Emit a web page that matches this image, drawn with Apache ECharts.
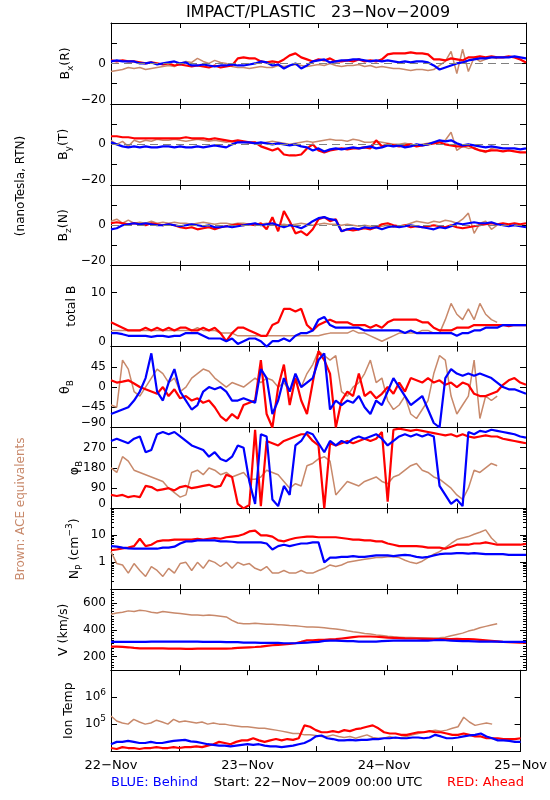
<!DOCTYPE html>
<html><head><meta charset="utf-8">
<script src="https://cdn.jsdelivr.net/npm/echarts@6/dist/echarts.min.js"></script>
<style>html,body{margin:0;padding:0;background:#fff}#c{width:550px;height:800px}</style>
</head><body><div id="c"></div>
<script>
// ---------- time grid (hours since 22-Nov-2009 00:00 UTC) ----------
const HOURS = [0,1,2,3,4,5,6,7,8,9,10,11,12,13,14,15,16,17,18,19,20,21,22,23,24,25,26,27,28,29,30,31,32,33,34,35,36,37,38,39,40,41,42,43,44,45,46,47,48,49,50,51,52,53,54,55,56,57,58,59,60,61,62,63,64,65,66,67,68,69,70,71,72];
const DAY_TICKS = [0,24,48,72];
const DAY_LABELS = ['22-Nov','23-Nov','24-Nov','25-Nov'];

// ---------- tick labels ----------
const BFIELD_LABELS = [-20, 0];
const BTOTAL_LABELS = [0, 10];
const THETA_LABELS = [-90, -45, 0, 45];
const PHI_LABELS = [0, 90, 180, 270];
const NP_LABELS = [1, 10];
const V_LABELS = [200, 400, 600];
const T_LABELS = [1e5, 1e6];

// ---------- Bx(R) ----------
const BX_AHEAD = [1.5,1,1.5,1,1, 0.5,0,0.5,0,-0.5, 0,-1,-0.5,-1,-1.5, -1,-1.5,-2,-1,-2, -1.5,-1,2.5,3,2.5, 2.5,1,0.5,1,0.5, 2,4,5,3,2, 1,2,1.5,2.5,1, 1,1.5,1,2,1, 1.5,1,2,4.5,5, 5,5,5.5,5,5, 4.5,2,2,1.5,2.5, 2,1.5,3,3,3.5, 3,3.5,3,3,3.5, 3,2,0.5];
const BX_BEHIND = [1,1.5,1,1,1, 0,0,0.5,-0.5,0, 0.5,1,0,0.5,-1, -1,-0.5,-1,-1.5,-1, -1,-0.5,-1,-1,-0.5, 0,1,0.5,-1,-0.5, -2.5,-1,0,-2.5,-1, 1,1.5,2,0.5,1, 1.5,1.5,2,2,1.5, 1,1.5,1,1.5,1, 0.5,1,0.5,1,1, 0.5,-1,-3,-2,-1, 0,0.5,1.5,2,2.5, 2.5,3,3,3,3, 3.5,3,2.5];
const BX_ACE = [-4,-3.5,-3,-2,-2.5, -2,-3,-2.5,-2,-1.5, -1,-1.5,0,1,0.5, 2.5,1,0,1.5,0.5, 0,-1.5,-2,-2,-2.5, -2,-1.5,-2,-2,-1, -1.5,-1,-0.5,-1,-1.5, -1,-0.5,-1,0,-1, -1.5,-1,-1,-0.5,-1.5, -1,-2,-1.5,-2,-2.5, -2.5,-3,-3.5,-3,-3, -3.5,-3,-1,1,6, -5,7,-4,3,1, 2,3,2.5];

// ---------- By(T) ----------
const BY_AHEAD = [4,4,3.5,3.5,3, 3,3,3,3,3, 3,3,3,3.5,3, 3,3,2.5,3,2.5, 2,1.5,2,1.5,1, 1,-1,-2,-3,-2, -5,-5.5,-5.5,-5,-2, 0,-3,-4,-3,-2.5, -2,-2.5,-2,-2,-1.5, -2,2,-1,0,-0.5, -1,-0.5,0,-1,-0.5, 0,0.5,1,0,-0.5, -1,-1,-0.5,-2,-3, -3.5,-3,-3,-3.5,-3, -3.5,-4,-4];
const BY_BEHIND = [1,0,-1,-1.5,-1, -1.5,-1,-1.5,-1.5,-1, -1,-1.5,-1,-1.5,-1.5, -1,-1.5,-1,-0.5,-1, -1.5,0,1,1,1, 0.5,1,0.5,0,0.5, 0,-0.5,0,-1,-1.5, -3,-2,-3.5,-2.5,-2, -2.5,-2,-1.5,-2,-1.5, -1,-2,-1.5,-0.5,-1, -0.5,-1.5,-1,0,-0.5, 0,1,2,1.5,2, 0.5,-0.5,0,-0.5,-1, -1.5,-1,-1.5,-2,-2, -2,-2.5,-2];
const BY_ACE = [2,0,1.5,-1,2, 1,2,1.5,2.5,2, 2,2.5,2,1.5,2, 2.5,2,1.5,2,1.5, 1,1.5,1,1,0.5, 1,0.5,1,1.5,1, 0.5,0,0.5,1,1.5, 1,1.5,2,2.5,2, 2,1.5,2.5,2,1, 1,1.5,1,0.5,0, 0,0.5,0,-0.5,0, 0.5,1,1.5,2,6, -3,-1,-2,-1.5,-3, -4,-2,-1.5];

// ---------- Bz(N) ----------
const BZ_AHEAD = [1,1.5,1,0.5,1, 0.5,0,1,0.5,0, 0.5,0,-1,-1.5,-1, -2,-1.5,-1,-2,-1, -0.5,0,0.5,0,0.5, 0,1,-2,4,-3, 7,2,-4,-3,-5, -2,3,4,2,3, -3,-2,-2.5,-2,-1.5, -2,-1,0.5,1,0, -0.5,0,-1,-0.5,-1, -0.5,0,-0.5,-1,0, -1,-1.5,-1,-0.5,0, 0.5,1,0.5,1,0.5, 1,0.5,1];
const BZ_BEHIND = [-2,-1.5,0,0.5,1, 0.5,1,0.5,0,0, 0.5,0,-0.5,0,0.5, 0,-0.5,0,-1,-1, -0.5,-1,-0.5,0,0.5, 1,0,0.5,1,0, -1,0,-0.5,-1.5,0, 2,3.5,4,3,2.5, -3,-2,-1.5,-2,-1, -1.5,-1,-2,-1,-0.5, -1,-0.5,0,-0.5,-1, -1.5,-2,-1,-1.5,-0.5, 1,0.5,1,1.5,1, 1,1.5,0.5,0,-0.5, 0,-0.5,-1];
const BZ_ACE = [2,3,1,2.5,1, 1.5,1,2,1,1.5, 1,1.5,1,1,0.5, 1,1.5,1,0.5,1, 1,0.5,1,1,0.5, 0,0.5,1,0.5,0, 0.5,0,0.5,1,0.5, 0,0.5,1,0.5,0.5, 0,0.5,0,-0.5,0, -0.5,-1,-0.5,0,-1, -0.5,0,1,2,1.5, 1,2,1.5,2.5,2, 1,3,6,-4,1, 2,-2,0];

// ---------- total B ----------
const BT_AHEAD = [4.5,4,3.5,3,3, 3,3.5,3,3.5,3, 3.5,3,3.5,3.5,3, 3,3.5,3,3.5,2.5, 1,2.5,3.5,3.5,3, 2.5,2,2,4,4.5, 7,7,6.5,7,4, 3,4,4.5,5,4.5, 4.5,4.5,4,4,4, 3.5,4,3.5,4.5,5, 5,5,5,5,4.5, 4.5,3.5,3,3,3, 3.5,3.5,3.5,4,4, 4,4,4,4,3.8, 4,4,4];
const BT_BEHIND = [2.5,2.5,2.3,2,2, 2,2,1.8,2,2, 1.8,2,2,2.5,2.5, 2.5,2,1.5,1.5,1.5, 1,1.5,0.5,1,1.5, 1.5,1,0,1,1, 1.5,1,2,2.5,2.5, 3,5,5.5,4,3.5, 3.5,3.5,3.5,3.5,3, 3,3,3,3,3, 3,2.5,3,2.5,2.5, 2.5,2.5,2.5,2.5,2.5, 2,2.5,2.5,3,3, 3.5,3.5,3.5,4,4, 4,4,4];
const BT_ACE = [3,3,3,3,3, 3,3,3,3,3, 3,3,3,3,3, 3.5,3,3,3,2.5, 2.5,2.5,2,2,2, 2,2,2,2,2, 2,2,2,2,2, 2,2,2.3,2.5,2.5, 2.5,2.5,3,2.5,2.5, 2,1.5,1,1.5,2, 2.5,2.5,2.5,2.5,3, 3,2.5,2.5,5,8, 6,5,7,5,8, 6,5,4.5];

// ---------- theta_B ----------
const TH_AHEAD = [15,10,12,15,8, 0,-5,-10,-15,0, -20,-5,-25,-20,-30, -25,-35,-30,-45,-65, -75,-60,-70,-40,-35, -30,60,-60,-90,0, 50,-40,20,-30,-60, 10,80,60,30,-90, -30,-10,-20,30,-20, -10,-25,-15,0,-15, 10,-10,20,15,10, 20,10,15,5,10, 0,10,5,-15,-20, -20,-15,-10,5,15, 20,10,5];
const TH_BEHIND = [-60,-55,-50,-45,-30, -10,20,75,-10,-30, 10,40,-10,-30,-50, -40,-10,0,-5,0, -10,-30,-30,-25,-30, -35,40,20,-60,-30, 20,-10,30,0,10, 20,60,75,-50,-30, -40,-30,-35,-20,-45, -60,-30,-40,-10,20, 0,-20,-40,-30,-20, -50,-80,-90,20,40, 30,25,30,25,30, 25,20,10,0,-5, -5,-10,-15];
const TH_ACE = [-40,-45,60,40,-10, -20,0,20,40,30, 10,20,-10,0,20, 30,40,35,20,10, 0,10,5,0,10, 20,10,20,15,0, 10,-10,20,0,30, 50,80,70,60,70, -10,-20,0,10,30, 60,10,20,-30,-50, -40,-20,-60,-70,-50, -30,30,70,60,-20, -60,-40,-20,60,-70, -20,-30,-20];

// ---------- phi_B ----------
const PH_AHEAD = [60,55,60,50,55, 50,100,95,80,85, 90,80,95,100,90, 95,100,105,95,100, 150,140,20,0,15, 350,10,300,290,280, 300,310,320,330,330, 300,280,0,290,280, 290,300,290,300,310, 300,310,340,30,350, 355,350,345,350,345, 340,335,330,325,330, 320,330,320,315,320, 325,320,320,310,305, 300,295,290];
const PH_BEHIND = [300,310,300,290,310, 320,250,260,330,340, 330,340,320,300,280, 270,260,230,250,220, 210,230,280,270,120, 20,330,320,40,10, 100,60,280,300,340, 330,290,250,300,280, 300,290,310,320,310, 320,330,310,280,300, 320,330,320,330,320, 330,320,100,60,20, 40,10,340,330,345, 340,350,345,340,335, 330,320,315];
const PH_ACE = [180,160,230,210,170, 160,150,140,130,120, 90,70,50,60,160, 170,150,180,170,150, 160,140,150,160,130, 130,140,170,160,150, 120,90,110,100,190, 200,220,230,210,60, 90,120,110,100,120, 130,140,120,110,140, 150,170,190,200,170, 160,140,130,110,90, 60,40,90,170,160, 180,200,190];

// ---------- Np ----------
const NP_AHEAD = [2.8,3,3.3,3.5,4, 7.5,4,4.5,6,6.5, 6.5,7,7,7,7, 7.5,7,7.5,8,7.5, 8.5,9,9.5,11,14, 15,10,10,9,6.5, 6,7,8,8.5,9, 9,8.5,8.5,8.5,8.5, 8,7.5,7,7,6.5, 6.5,6,6,5,4.5, 4,4,4,4,3.8, 3.5,3.5,3.5,3.2,3.8, 4.5,4.5,4.5,5,5, 5.5,5,4.5,4.5,4.5, 4.5,4.5,4.8];
const NP_BEHIND = [4,3.8,3.5,3.3,3.2, 3.2,3.2,3.2,3.2,3.5, 3.5,3.8,5,6,6, 6.5,6.5,6.5,6.5,6, 6,5.8,5.5,5.5,5.5, 5.5,5.5,5,3,4, 4.5,4,4.5,5,5, 5.5,5.5,1.0,1.5,1.5, 1.6,1.6,1.7,1.6,1.6, 1.7,1.8,1.8,1.8,1.7, 1.8,1.9,1.8,1.6,1.5, 1.6,1.8,2.0,2.1,2.1, 2.2,2.2,2.1,2.2,2.1, 2.0,2.0,2.0,2.0,1.9, 1.9,1.9,1.9];
const NP_ACE = [2.5,0.9,0.8,0.4,0.9, 0.5,0.3,0.7,0.5,0.3, 0.6,0.4,0.9,1.0,0.5, 1.0,0.6,1.2,1.0,0.7, 1.0,0.6,1.0,0.8,0.9, 0.6,0.5,0.7,0.4,0.4, 0.5,0.4,0.4,0.5,0.4, 0.4,0.5,0.6,0.8,0.7, 0.8,1.0,1.1,1.2,1.3, 1.4,1.5,1.5,1.6,1.6, 1.5,1.2,1.0,0.9,1.1, 1.5,2.0,2.5,3.5,5, 7,8,9,11,13, 16,8,5];

// ---------- V ----------
const V_AHEAD = [275,275,273,270,265, 262,262,262,262,262, 260,260,260,258,258, 260,260,260,260,260, 260,262,265,268,270, 272,275,280,285,288, 292,295,300,310,322, 322,325,325,328,330, 335,340,345,350,350, 350,348,345,342,340, 338,336,335,335,333, 332,330,330,330,330, 332,330,330,328,325, 322,318,314,310,308, 306,305,305];
const V_BEHIND = [310,310,310,310,310, 310,310,312,312,312, 312,312,312,312,312, 312,310,310,310,310, 308,308,308,305,305, 305,303,303,302,302, 300,300,300,302,305, 308,310,318,320,320, 318,315,315,312,312, 312,312,315,318,320, 320,320,320,320,320, 320,322,325,322,320, 318,315,315,314,312, 312,312,312,310,310, 310,310,310];
const V_ACE = [515,525,530,540,535, 545,540,530,525,535, 530,525,520,515,510, 510,505,510,505,500, 495,470,450,445,445, 448,445,440,440,438, 435,432,430,425,420, 420,418,415,410,405, 400,392,385,380,372, 368,362,358,352,348, 345,342,342,340,340, 338,338,340,345,355, 365,375,390,400,415, 425,435,445];

// ---------- Ion Temp ----------
const T_AHEAD = [1.3e4,1.2e4,1.4e4,1.3e4,1.3e4, 1.2e4,1.3e4,1.3e4,1.4e4,1.3e4, 1.3e4,1.4e4,1.3e4,1.4e4,1.4e4, 1.5e4,1.4e4,1.6e4,1.8e4,2.2e4, 2.0e4,1.8e4,2.2e4,2.5e4,2.5e4, 3.0e4,2.5e4,2.2e4,2.5e4,2.8e4, 2.5e4,2.8e4,2.6e4,3e4,9e4, 8e4,6e4,5e4,5e4,5.5e4, 5e4,6e4,5.5e4,6.5e4,7e4, 8e4,9e4,7e4,5e4,4.5e4, 4.5e4,4e4,4e4,4.5e4,5e4, 5e4,5.5e4,5e4,5e4,4.5e4, 4e4,4e4,4.5e4,4e4,3.5e4, 3.5e4,3e4,3e4,3e4,2.8e4, 2.8e4,2.8e4,3e4];
const T_BEHIND = [1.8e4,2.2e4,2.2e4,2.4e4,2.2e4, 2.0e4,2.0e4,2.2e4,2.0e4,2.0e4, 2.2e4,2.4e4,2.5e4,2.6e4,2.3e4, 2.2e4,2.0e4,1.8e4,1.7e4,1.6e4, 1.6e4,1.5e4,1.6e4,1.7e4,1.8e4, 1.7e4,1.8e4,1.6e4,1.5e4,1.5e4, 1.4e4,1.5e4,1.6e4,1.8e4,2.0e4, 2.5e4,3.5e4,3.8e4,3.0e4,2.8e4, 2.5e4,2.5e4,2.6e4,2.5e4,2.6e4, 2.6e4,2.8e4,2.8e4,3.0e4,3.0e4, 3.2e4,3.0e4,3.0e4,3.2e4,3.2e4, 3.0e4,3.2e4,4.0e4,3.5e4,3.0e4, 3.0e4,3.2e4,3.5e4,3.8e4,4e4, 4.5e4,3.5e4,3e4,2.5e4,2.5e4, 2.4e4,2.2e4,2.2e4];
const T_ACE = [2e5,1.3e5,1.1e5,1.0e5,1.5e5, 1.2e5,1.0e5,1.1e5,1.4e5,1.2e5, 1.0e5,1.5e5,1.2e5,1.3e5,1.2e5, 1.1e5,1.2e5,1.0e5,1.1e5,1.0e5, 1.0e5,9e4,8.5e4,8e4,8e4, 7.5e4,7e4,7e4,6.5e4,6e4, 5.5e4,5e4,4.5e4,4.5e4,4e4, 4e4,3.8e4,3.5e4,3.5e4,4e4, 3.5e4,3.2e4,3.5e4,3.0e4,3.5e4, 4e4,3.2e4,3.0e4,3.0e4,3.5e4, 3.0e4,3.2e4,3.5e4,4e4,4.5e4, 5e4,5.5e4,6e4,5.5e4,6e4, 7e4,8e4,1.8e5,1.2e5,9e4, 1.0e5,1.1e5,1.0e5];

// ---------- layout / style ----------
const FF = '"DejaVu Sans", "Liberation Sans", sans-serif';
const RED = '#ff0000', BLUE = '#0000ff', BROWN = '#c8896b';
const PLOT_LEFT = 111, PLOT_RIGHT = 526, PLOT_TOP = 23, PANEL_H = 80.9;

const NAME_RICH = {
  m: {fontSize: 12.5, fontFamily: FF, fill: '#000', lineHeight: 15, verticalAlign: 'middle'},
  s: {fontSize: 9, fontFamily: FF, fill: '#000', lineHeight: 9, verticalAlign: 'middle', padding: [10, 0, 0, 0]},
  p: {fontSize: 9, fontFamily: FF, fill: '#000', lineHeight: 9, verticalAlign: 'middle', padding: [0, 0, 10, 0]}
};

function logMinors(lo, hi) {
  const out = [];
  for (let d = lo; d < hi; d *= 10) for (let k = 2; k <= 9; k++) out.push(+(d * k).toPrecision(3));
  return out;
}

const panels = [
  {name: '{m|B}{s|x}{m|(R)}', nx: 66, y: {type: 'value', min: -20, max: 20, interval: 10}, labels: BFIELD_LABELS, zero: true, ahead: BX_AHEAD, behind: BX_BEHIND, ace: BX_ACE},
  {name: '{m|B}{s|y}{m|(T)}', nx: 64, y: {type: 'value', min: -20, max: 20, interval: 10}, labels: BFIELD_LABELS, zero: true, ahead: BY_AHEAD, behind: BY_BEHIND, ace: BY_ACE},
  {name: '{m|B}{s|z}{m|(N)}', nx: 64, y: {type: 'value', min: -20, max: 20, interval: 10}, labels: BFIELD_LABELS, zero: true, ahead: BZ_AHEAD, behind: BZ_BEHIND, ace: BZ_ACE},
  {name: '{m|total B}', nx: 72, y: {type: 'value', min: 0, max: 15, interval: 10}, labels: BTOTAL_LABELS, ahead: BT_AHEAD, behind: BT_BEHIND, ace: BT_ACE},
  {name: '{m|θ}{s|B}', nx: 66, y: {type: 'value', min: -90, max: 90, interval: 45}, labels: THETA_LABELS, ahead: TH_AHEAD, behind: TH_BEHIND, ace: TH_ACE},
  {name: '{m|φ}{s|B}', nx: 75, y: {type: 'value', min: 0, max: 360, interval: 90}, labels: PHI_LABELS, ahead: PH_AHEAD, behind: PH_BEHIND, ace: PH_ACE},
  {name: '{m|N}{s|P}{m| (cm}{p|−3}{m|)}', nx: 75, y: {type: 'log', min: 0.1, max: 100, logBase: 10}, labels: NP_LABELS, minorAxis: {customValues: logMinors(0.1, 100)}, ahead: NP_AHEAD, behind: NP_BEHIND, ace: NP_ACE},
  {name: '{m|V (km/s)}', nx: 64, y: {type: 'value', min: 100, max: 700, interval: 100}, labels: V_LABELS, majors: V_LABELS, minorAxis: {interval: 20}, ahead: V_AHEAD, behind: V_BEHIND, ace: V_ACE},
  {name: '{m|Ion Temp}', nx: 69, y: {type: 'log', min: 1e4, max: 1e7, logBase: 10}, labels: T_LABELS, exp: true, ahead: T_AHEAD, behind: T_BEHIND, ace: T_ACE}
];

const LABEL_RICH = {
  n: {fontSize: 12, fontFamily: FF, color: '#000'},
  lo: {fontSize: 12, fontFamily: FF, color: '#000', padding: [0, 0, 9, 0]},
  a: {fontSize: 12, fontFamily: FF, color: '#000', lineHeight: 14, verticalAlign: 'middle'},
  e: {fontSize: 9, fontFamily: FF, color: '#000', lineHeight: 9, verticalAlign: 'middle', padding: [0, 0, 10, 0]}
};

function makeFormatter(p) {
  return function (v) {
    const hit = p.labels.find(L => Math.abs(v - L) <= 1e-6 * Math.max(1, Math.abs(L)));
    if (hit === undefined) return '';
    if (p.exp) return '{a|10}{e|' + Math.round(Math.log10(hit)) + '}';
    const t = String(hit).replace('-', '\u2212');
    return (hit === p.y.min ? '{lo|' : '{n|') + t + '}';
  };
}

const grids = [], xAxes = [], yAxes = [], series = [], graphics = [];
const tickStyle = {color: '#000', width: 1};

panels.forEach((p, i) => {
  const top = PLOT_TOP + i * PANEL_H;
  grids.push({left: PLOT_LEFT, top: top, width: PLOT_RIGHT - PLOT_LEFT, height: PANEL_H});
  const last = i === panels.length - 1;
  const xBase = {
    gridIndex: i, type: 'value', min: 0, max: 72, interval: 12,
    axisLine: {show: true, onZero: false, lineStyle: tickStyle},
    axisTick: {show: true, inside: true, length: 5, lineStyle: tickStyle},
    splitLine: {show: false}
  };
  const xb = xAxes.length;
  xAxes.push(Object.assign({}, xBase, {
    position: 'bottom',
    axisLabel: {
      show: last, margin: 8, color: '#000', fontFamily: FF, fontSize: 13,
      formatter: v => { const k = DAY_TICKS.indexOf(v); return k >= 0 ? DAY_LABELS[k].replace('-', '\u2212') : ''; }
    }
  }));
  xAxes.push(Object.assign({}, xBase, {position: 'top', axisLabel: {show: false}}));

  const yBase = Object.assign({gridIndex: i, splitLine: {show: false}}, p.y);
  const yl = yAxes.length;
  ['left', 'right'].forEach(pos => {
    yAxes.push(Object.assign({}, yBase, {
      position: pos,
      axisLine: {show: true, onZero: false, lineStyle: tickStyle},
      axisTick: Object.assign({show: true, inside: true, length: 6, lineStyle: tickStyle}, p.majors ? {customValues: p.majors} : {}),
      axisLabel: pos === 'left'
        ? {show: true, margin: 5, color: '#000', fontFamily: FF, fontSize: 12, formatter: makeFormatter(p), rich: LABEL_RICH}
        : {show: false}
    }));
  });
  if (p.minorAxis) {
    ['left', 'right'].forEach(pos => {
      const ax = Object.assign({}, yBase, {
        position: pos,
        axisLine: {show: false, onZero: false},
        axisTick: {show: true, inside: true, length: 3, lineStyle: tickStyle},
        axisLabel: {show: false}
      });
      if (p.minorAxis.interval) ax.interval = p.minorAxis.interval;
      if (p.minorAxis.customValues) ax.axisTick.customValues = p.minorAxis.customValues;
      yAxes.push(ax);
    });
  }

  const toXY = arr => arr.map((v, k) => [HOURS[k], v]);
  [['ACE', p.ace, BROWN, 1.5], ['Ahead', p.ahead, RED, 2.2], ['Behind', p.behind, BLUE, 2.2]].forEach(([nm, arr, col, w]) => {
    const s = {
      type: 'line', name: nm, xAxisIndex: xb, yAxisIndex: yl, data: toXY(arr),
      showSymbol: false, symbol: 'none', silent: true, animation: false,
      lineStyle: {color: col, width: w}, itemStyle: {color: col}, emphasis: {disabled: true}
    };
    if (nm === 'ACE' && p.zero) {
      s.markLine = {silent: true, symbol: ['none', 'none'], animation: false, label: {show: false},
        lineStyle: {color: '#808080', type: [8, 5], width: 1.2}, data: [{yAxis: 0}]};
    }
    series.push(s);
  });

  graphics.push({type: 'text', x: p.nx, y: top + PANEL_H / 2, rotation: Math.PI / 2, silent: true,
    style: {text: p.name, rich: NAME_RICH, align: 'center', verticalAlign: 'middle', fill: '#000', font: '12.5px ' + FF}});
});

graphics.push(
  {type: 'text', x: 318, y: 12.5, silent: true, style: {text: 'IMPACT/PLASTIC   23\u2212Nov\u22122009', font: '16px ' + FF, fill: '#000', align: 'center', verticalAlign: 'middle'}},
  {type: 'text', x: 111, y: 783, silent: true, style: {text: 'BLUE: Behind', font: '13px ' + FF, fill: BLUE, align: 'left', verticalAlign: 'middle'}},
  {type: 'text', x: 318, y: 783, silent: true, style: {text: 'Start: 22\u2212Nov\u22122009 00:00 UTC', font: '13px ' + FF, fill: '#000', align: 'center', verticalAlign: 'middle'}},
  {type: 'text', x: 524, y: 783, silent: true, style: {text: 'RED: Ahead', font: '13px ' + FF, fill: RED, align: 'right', verticalAlign: 'middle'}},
  {type: 'text', x: 21, y: 186, rotation: Math.PI / 2, silent: true, style: {text: '(nanoTesla, RTN)', font: '12px ' + FF, fill: '#000', align: 'center', verticalAlign: 'middle'}},
  {type: 'text', x: 20.5, y: 509, rotation: Math.PI / 2, silent: true, style: {text: 'Brown: ACE equivalents', font: '12px ' + FF, fill: BROWN, align: 'center', verticalAlign: 'middle'}}
);

const chart = echarts.init(document.getElementById('c'), null, {renderer: 'canvas'});
chart.setOption({
  backgroundColor: '#fff',
  animation: false,
  grid: grids,
  xAxis: xAxes,
  yAxis: yAxes,
  series: series,
  graphic: graphics
});
</script>
</body></html>
